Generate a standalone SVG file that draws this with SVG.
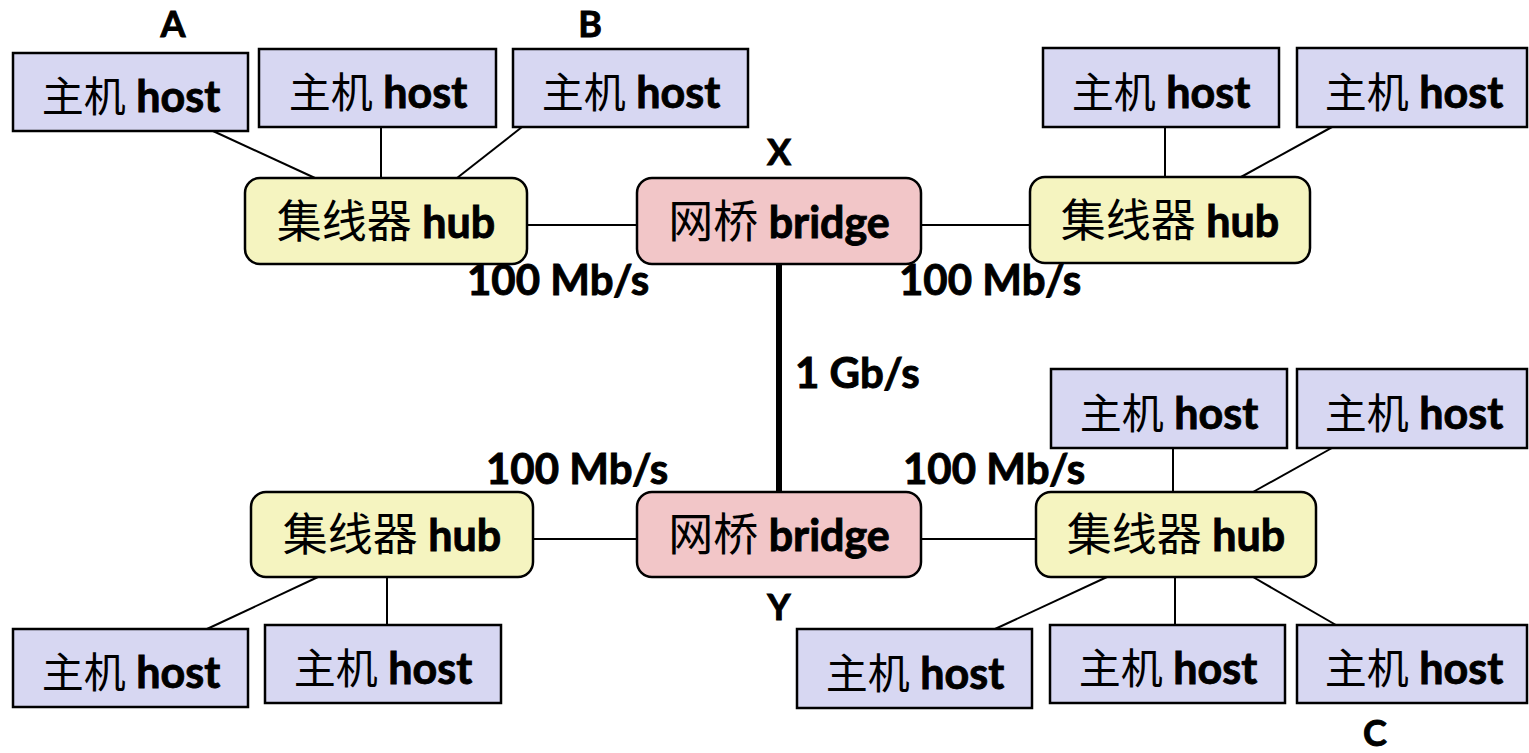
<svg xmlns="http://www.w3.org/2000/svg" width="1529" height="753" viewBox="0 0 1529 753">
  <style>
    .host rect { fill: #d7d7f2; stroke: #000; stroke-width: 2.5; }
    .hub rect { fill: #f5f4c0; stroke: #000; stroke-width: 2.5; }
    .bridge rect { fill: #f2c6c8; stroke: #000; stroke-width: 2.5; }
    text { fill: #000; text-anchor: middle; }
    .cjk { font-family: "Noto Sans CJK SC", "Noto Sans CJK TC", sans-serif; font-weight: 400; }
    .lat, .lbl, .tag { font-family: Lato, "Liberation Sans", sans-serif; font-weight: 700; stroke: #000; stroke-width: 0.9; }
    .lat { font-size: 43px; }
    .host .cjk { font-size: 42px; }
    .hub .cjk, .bridge .cjk { font-size: 45px; }
    .lbl { font-size: 42px; text-anchor: start; }
    .tag { font-size: 36px; }
    #links line { stroke: #000; stroke-width: 2; }
    #links line.trunk { stroke-width: 6; }
  </style>

  <!-- connectors -->
  <g id="links">
    <!-- top-left segment -->
    <line x1="213" y1="131" x2="315" y2="178"/>
    <line x1="381" y1="127" x2="381" y2="178"/>
    <line x1="522" y1="127" x2="457" y2="178"/>
    <line x1="527" y1="225" x2="637" y2="225"/>
    <!-- top-right segment -->
    <line x1="921" y1="225" x2="1030" y2="225"/>
    <line x1="1165" y1="127" x2="1165" y2="177"/>
    <line x1="1332" y1="127" x2="1241" y2="177"/>
    <!-- bridge to bridge -->
    <line class="trunk" x1="779" y1="264" x2="779" y2="492"/>
    <!-- bottom-left segment -->
    <line x1="533" y1="539" x2="637" y2="539"/>
    <line x1="318" y1="577" x2="207" y2="629"/>
    <line x1="387" y1="577" x2="387" y2="625"/>
    <!-- bottom-right segment -->
    <line x1="921" y1="539" x2="1036" y2="539"/>
    <line x1="1173" y1="448" x2="1173" y2="492"/>
    <line x1="1332" y1="448" x2="1253" y2="492"/>
    <line x1="1107" y1="577" x2="995" y2="629"/>
    <line x1="1175" y1="577" x2="1175" y2="625"/>
    <line x1="1253" y1="577" x2="1336" y2="625"/>
  </g>

  <!-- bridges -->
  <g id="bridgeX" class="bridge">
    <rect x="637" y="178" width="284" height="86" rx="15"/>
    <text x="779" y="238"><tspan class="cjk">网桥</tspan><tspan class="lat"> bridge</tspan></text>
  </g>
  <g id="bridgeY" class="bridge">
    <rect x="637" y="492" width="284" height="85" rx="15"/>
    <text x="779" y="551"><tspan class="cjk">网桥</tspan><tspan class="lat"> bridge</tspan></text>
  </g>

  <!-- hubs -->
  <g id="hubTL" class="hub">
    <rect x="245" y="178" width="282" height="86" rx="15"/>
    <text x="386" y="238"><tspan class="cjk">集线器</tspan><tspan class="lat"> hub</tspan></text>
  </g>
  <g id="hubTR" class="hub">
    <rect x="1030" y="177" width="280" height="86" rx="15"/>
    <text x="1170" y="237"><tspan class="cjk">集线器</tspan><tspan class="lat"> hub</tspan></text>
  </g>
  <g id="hubBL" class="hub">
    <rect x="251" y="492" width="282" height="85" rx="15"/>
    <text x="392" y="551"><tspan class="cjk">集线器</tspan><tspan class="lat"> hub</tspan></text>
  </g>
  <g id="hubBR" class="hub">
    <rect x="1036" y="492" width="280" height="85" rx="15"/>
    <text x="1176" y="551"><tspan class="cjk">集线器</tspan><tspan class="lat"> hub</tspan></text>
  </g>

  <!-- hosts -->
  <g id="hostA" class="host">
    <rect x="13" y="53" width="235" height="78"/>
    <text x="131" y="112"><tspan class="cjk">主机</tspan><tspan class="lat"> host</tspan></text>
  </g>
  <g id="hostTL2" class="host">
    <rect x="259" y="49" width="237" height="78"/>
    <text x="378" y="108"><tspan class="cjk">主机</tspan><tspan class="lat"> host</tspan></text>
  </g>
  <g id="hostB" class="host">
    <rect x="513" y="49" width="235" height="78"/>
    <text x="631" y="108"><tspan class="cjk">主机</tspan><tspan class="lat"> host</tspan></text>
  </g>
  <g id="hostTR1" class="host">
    <rect x="1043" y="48" width="236" height="79"/>
    <text x="1161" y="108"><tspan class="cjk">主机</tspan><tspan class="lat"> host</tspan></text>
  </g>
  <g id="hostTR2" class="host">
    <rect x="1297" y="48" width="230" height="79"/>
    <text x="1414" y="108"><tspan class="cjk">主机</tspan><tspan class="lat"> host</tspan></text>
  </g>
  <g id="hostBL1" class="host">
    <rect x="13" y="629" width="235" height="78"/>
    <text x="131" y="688"><tspan class="cjk">主机</tspan><tspan class="lat"> host</tspan></text>
  </g>
  <g id="hostBL2" class="host">
    <rect x="265" y="625" width="236" height="78"/>
    <text x="383" y="684"><tspan class="cjk">主机</tspan><tspan class="lat"> host</tspan></text>
  </g>
  <g id="hostBR1" class="host">
    <rect x="1051" y="369" width="236" height="79"/>
    <text x="1169" y="429"><tspan class="cjk">主机</tspan><tspan class="lat"> host</tspan></text>
  </g>
  <g id="hostBR2" class="host">
    <rect x="1297" y="369" width="230" height="79"/>
    <text x="1414" y="429"><tspan class="cjk">主机</tspan><tspan class="lat"> host</tspan></text>
  </g>
  <g id="hostBR3" class="host">
    <rect x="797" y="629" width="235" height="79"/>
    <text x="915" y="689"><tspan class="cjk">主机</tspan><tspan class="lat"> host</tspan></text>
  </g>
  <g id="hostBR4" class="host">
    <rect x="1050" y="625" width="235" height="78"/>
    <text x="1168" y="684"><tspan class="cjk">主机</tspan><tspan class="lat"> host</tspan></text>
  </g>
  <g id="hostC" class="host">
    <rect x="1297" y="625" width="230" height="78"/>
    <text x="1414" y="684"><tspan class="cjk">主机</tspan><tspan class="lat"> host</tspan></text>
  </g>

  <!-- link speeds -->
  <g id="speeds">
    <text class="lbl" x="467" y="295">100 Mb/s</text>
    <text class="lbl" x="899" y="295">100 Mb/s</text>
    <text class="lbl" x="795" y="388">1 Gb/s</text>
    <text class="lbl" x="486" y="484">100 Mb/s</text>
    <text class="lbl" x="903" y="484">100 Mb/s</text>
  </g>

  <!-- station and bridge tags -->
  <g id="tags">
    <text class="tag" x="173" y="37">A</text>
    <text class="tag" x="590" y="37">B</text>
    <text class="tag" x="779" y="165">X</text>
    <text class="tag" x="779" y="620">Y</text>
    <text class="tag" x="1375" y="746">C</text>
  </g>
</svg>
